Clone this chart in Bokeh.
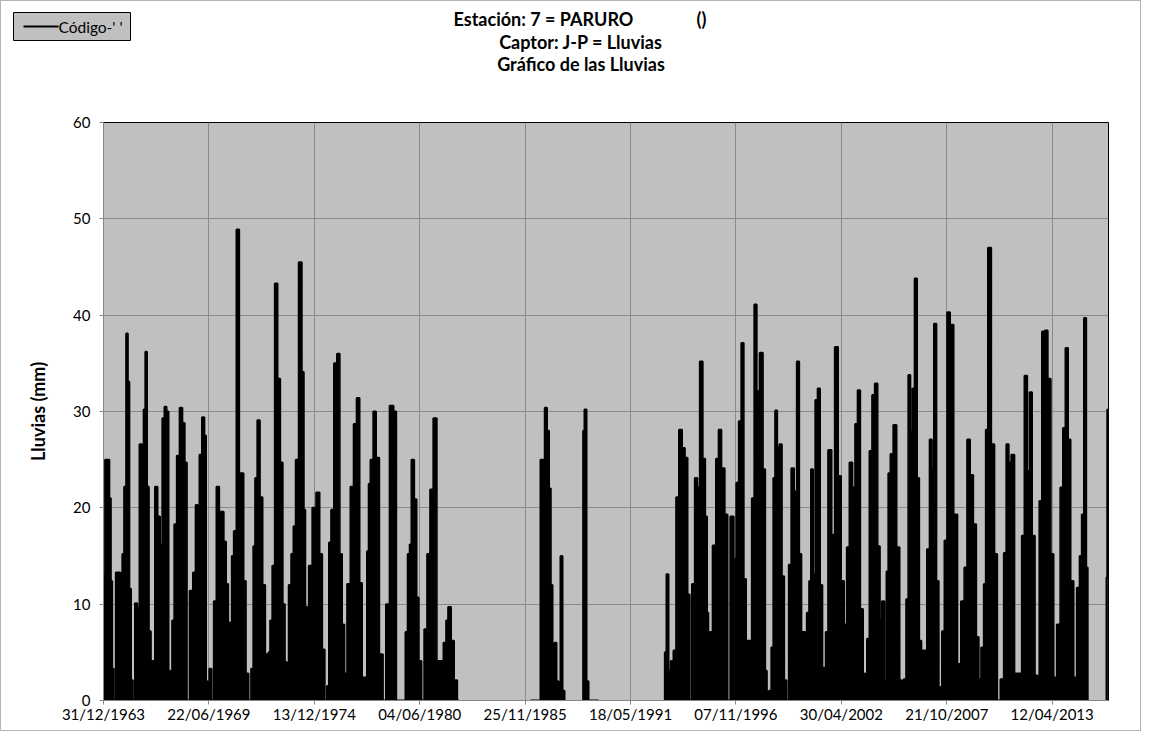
import numpy as np
import pandas as pd
from bokeh.plotting import figure
from bokeh.layouts import column
from bokeh.models import (Range1d, FixedTicker, DatetimeTickFormatter, ColumnDataSource)
from bokeh.core.properties import value
from bokeh.embed import file_html
from bokeh.resources import INLINE

NAN = float("nan")

# ---- data (time in decimal years, rainfall in mm) ----
years_1964_1982 = [
    1964.01, 1964.156, 1964.26, 1964.346, 1964.415, 1964.485, 1964.571,
    1964.71, 1964.814, 1964.935, 1965.022, 1965.125, 1965.229, 1965.299, 1965.385, 1965.472, 1965.576,
    1965.697, 1965.801, 1965.939, 1966.043, 1966.13, 1966.216, 1966.303, 1966.407, 1966.511,
    1966.614, 1966.736, 1966.874, 1966.995, 1967.117, 1967.221, 1967.325, 1967.428, 1967.515,
    1967.619, 1967.74, 1967.879, 1968.034, 1968.156, 1968.277, 1968.381,
    1968.571, 1968.727, 1968.848, 1968.935, 1969.039, 1969.195, 1969.281, 1969.368, 1969.437,
    1969.558, 1969.662,
    1969.801, 1969.939, 1970.078, 1970.182, 1970.303, 1970.424, 1970.528,
    1970.615, 1970.719, 1970.822, 1970.996, 1971.099, 1971.221, 1971.324, 1971.463, 1971.60,
    1971.74, 1971.827, 1971.931, 1972.052, 1972.191, 1972.329, 1972.467, 1972.54,
    1972.606, 1972.71, 1972.831, 1972.97, 1973.108, 1973.247, 1973.368, 1973.472,
    1973.558, 1973.688, 1973.818, 1973.922, 1974.052, 1974.234, 1974.364, 1974.442, 1974.519,
    1974.582, 1974.753, 1974.945, 1975.153, 1975.288, 1975.429, 1975.55,
    1975.673, 1975.756, 1975.896, 1976.052, 1976.208, 1976.327, 1976.452, 1976.571,
    1976.743, 1976.919, 1977.075, 1977.231, 1977.366, 1977.491,
    1977.626, 1977.75, 1977.803, 1977.938, 1978.093, 1978.218, 1978.426, 1978.6,
    1978.753, 1978.977, 1979.153, 1979.257, 1979.45,
    1979.65, 1979.725, 1979.88, 1979.932, 1980.067, 1980.208, 1980.312, 1980.431, 1980.6,
    1980.727, 1980.899, 1981.039, 1981.231, 1981.387,
    1981.558, 1981.766, 1981.834, 1981.974, 1982.13, 1982.286, 1982.457,
]
rain_1964_1982 = [
    13, 25, 25, 21, 12.4, 3.3, 0,
    13.3, 13.3, 11.2, 15.2, 22.2, 38.1, 33.1, 11.6, 2.1, 0,
    10.1, 9.6, 26.6, 21.4, 30.2, 36.2, 22.2, 7.2, 4.1,
    4.1, 22.2, 19.1, 16.2, 29.3, 30.5, 30, 3.1, 0,
    8.3, 18.3, 25.4, 30.4, 28.8, 24.7, 0,
    11.4, 13.3, 20.3, 17.6, 25.5, 29.4, 27.5, 2, 0,
    3.3, 0,
    10.3, 22.2, 19.6, 19.6, 16.5, 12.1, 6.9,
    8.1, 15, 17.6, 48.9, 23.6, 23.6, 12.4, 2.8, 0,
    3.3, 16, 23.1, 29.1, 21.1, 12, 4.8, 0,
    5, 8.3, 14, 43.3, 33.4, 24.7, 10, 4,
    3.9, 12, 15.2, 18.1, 25, 45.5, 34.1, 19.8, 6.7,
    9.7, 14, 20, 21.6, 15.2, 5.3, 0,
    1.5, 16.4, 19.8, 35, 36, 15.2, 7.9, 2.8,
    12.1, 22.2, 28.7, 31.4, 12.2, 2.4,
    2.4, 15.5, 22.5, 25, 30, 25.2, 4.8, 0,
    10, 30.6, 30, 0, 0,
    0, 7.1, 15.2, 16.2, 25, 20.9, 10.7, 4.1, 0,
    7.4, 15.2, 21.9, 29.3, 4.1,
    4.1, 6, 8.3, 9.7, 6.2, 2.1, 0,
]

years_1986_1988 = [1986.182, 1986.649, 1986.753, 1986.857, 1986.987, 1987.091, 1987.195,
                   1987.273, 1987.377, 1987.481, 1987.584, 1987.688, 1987.792, 1987.896, 1988.0]
rain_1986_1988 = [0, 0, 25, 25, 30.4, 28, 22, 12, 3, 6, 2, 0, 15, 1, 0]

years_1988_1989 = [1988.90, 1988.935, 1989.039, 1989.143, 1989.247, 1989.714]
rain_1988_1989 = [0, 28, 30.2, 2, 0, 0]

years_1993_2015 = [
    1993.125, 1993.194, 1993.298, 1993.402, 1993.541, 1993.679,
    1993.818, 1993.974, 1994.13, 1994.268, 1994.407, 1994.494,
    1994.649, 1994.788, 1994.909, 1995.047, 1995.203, 1995.307, 1995.394, 1995.44,
    1995.549, 1995.74, 1995.896, 1996.017, 1996.173, 1996.363, 1996.468,
    1996.658, 1996.814, 1996.935, 1997.073, 1997.195, 1997.316, 1997.437,
    1997.61, 1997.749, 1997.87, 1997.991, 1998.182, 1998.32, 1998.424, 1998.494,
    1998.632, 1998.753, 1998.84, 1998.944, 1999.047, 1999.187, 1999.29, 1999.428, 1999.532,
    1999.671, 1999.792, 1999.948, 2000.086, 2000.19, 2000.312, 2000.467,
    2000.606, 2000.71, 2000.796, 2000.917, 2001.039, 2001.16, 2001.281, 2001.402, 2001.48,
    2001.558, 2001.731, 2001.904, 2002.078, 2002.234, 2002.389, 2002.545,
    2002.684, 2002.822, 2002.978, 2003.117, 2003.238, 2003.376, 2003.532, 2003.6,
    2003.723, 2003.861, 2003.999, 2004.138, 2004.277, 2004.381, 2004.502, 2004.623,
    2004.727, 2004.814, 2004.952, 2005.108, 2005.281, 2005.42, 2005.49,
    2005.628, 2005.766, 2005.853, 2005.974, 2006.078, 2006.199, 2006.32, 2006.424, 2006.545,
    2006.701, 2006.857, 2006.978, 2007.082, 2007.203, 2007.325, 2007.446, 2007.5,
    2007.619, 2007.757, 2007.896, 2008.052, 2008.26, 2008.45,
    2008.641, 2008.796, 2008.935, 2009.091, 2009.264, 2009.402, 2009.524,
    2009.662, 2009.801, 2009.87, 2010.026, 2010.199, 2010.355, 2010.493,
    2010.701, 2010.84, 2010.961, 2011.082, 2011.238, 2011.394,
    2011.636, 2011.775, 2011.913, 2012.052, 2012.173, 2012.294, 2012.467, 2012.56,
    2012.675, 2012.831, 2012.97, 2013.125, 2013.281, 2013.42,
    2013.627, 2013.783, 2013.905, 2014.043, 2014.164, 2014.303, 2014.476,
    2014.649, 2014.77, 2014.874, 2014.996, 2015.1, 2015.151,
]
rain_1993_2015 = [
    0, 5, 13.1, 3.1, 4.1, 5.2,
    21.1, 28.1, 26.2, 25.2, 11, 0,
    12.1, 23.1, 22.1, 35.2, 25.1, 19.1, 9.1, 0,
    7.1, 16.1, 25.1, 28.1, 24.1, 19.3, 0,
    19.1, 14.7, 22.6, 29, 37.1, 12.6, 6.2,
    6.2, 21, 41.1, 32.1, 36.1, 24, 3.1, 0,
    1, 5.5, 23.1, 30.1, 26.2, 26.6, 12.9, 2.1, 0,
    14.1, 24.1, 21.7, 35.2, 15.2, 7.1, 7.1,
    9.1, 12.4, 24, 13.1, 31.2, 32.4, 12, 3.4, 0,
    7.1, 26, 17.2, 36.7, 23.3, 12.4, 7.9,
    15.9, 24.7, 22.1, 28.7, 32.2, 9.5, 2.8, 0,
    6.4, 25.9, 31.7, 32.9, 16, 8.4, 10.3, 2.1,
    13.4, 23.6, 25.6, 28.6, 15.9, 2.1, 0,
    2.2, 10.5, 33.8, 27.9, 32.4, 43.8, 23.1, 6.2, 5.2,
    5.2, 15.7, 27.1, 24.1, 39.1, 12.4, 1.4, 0,
    7.2, 16.6, 40.3, 39, 19.3, 3.8,
    10.3, 13.8, 27.1, 23.4, 18.3, 6.6, 2.2,
    5.5, 12.1, 28.1, 47, 26.6, 15.2, 0,
    2.2, 15.3, 26.6, 24.7, 25.5, 2.8,
    2.8, 17.1, 33.7, 23.8, 32, 17.1, 2.6, 0,
    20.7, 38.3, 38.4, 33.4, 15.2, 2.4,
    7.9, 22.1, 28.3, 36.6, 27.1, 12.4, 2.4,
    11.7, 15, 19.3, 39.7, 13.8, 0,
]

years_2016 = [2016.09, 2016.12, 2016.165]
rain_2016 = [0, 12.8, 30.2]

# periods without records (line interrupted)
gap_years = [1984.3, 1988.45, 1991.4, 2015.6]

x_ticks_labels = ["31/12/1963", "22/06/1969", "13/12/1974", "04/06/1980", "25/11/1985",
                  "18/05/1991", "07/11/1996", "30/04/2002", "21/10/2007", "12/04/2013"]
y_ticks = [0, 10, 20, 30, 40, 50, 60]
title_station = "Estación: 7 = PARURO"
title_station_code = "()"
title_lines = ["Captor: J-P = Lluvias", "Gráfico de las Lluvias"]
series_name = "Código-' '"

# ---- build the series ----
periods = [(years_1964_1982, rain_1964_1982), (years_1986_1988, rain_1986_1988),
           (years_1988_1989, rain_1988_1989), (years_1993_2015, rain_1993_2015),
           (years_2016, rain_2016)]
t_all, v_all = [], []
for i, (ty, rv) in enumerate(periods):
    if i > 0:
        t_all.append(gap_years[i - 1]); v_all.append(NAN)
    t_all += ty; v_all += rv

BASE = pd.Timestamp("1963-12-31")


def to_dt(t):
    return BASE + pd.to_timedelta((np.asarray(t, dtype=float) - 1964.0) * 365.25, unit="D")


src = ColumnDataSource(dict(x=to_dt(t_all), y=np.array(v_all, dtype=float)))

tick_dates = [pd.to_datetime(s, format="%d/%m/%Y") for s in x_ticks_labels]
tick_ms = [int(d.value // 10**6) for d in tick_dates]

FONT = "Lato"
W = 1141
HEAD_H = 110
MAIN_H = 621
TSIZE = "18px"

# ---- header: titles + legend (pixel coordinates, y downwards) ----
head = figure(width=W, height=HEAD_H, output_backend="svg", toolbar_location=None,
              x_range=Range1d(0, W), y_range=Range1d(HEAD_H, 0),
              x_axis_location=None, y_axis_location=None,
              min_border=0, min_border_left=0, min_border_right=0,
              min_border_top=0, min_border_bottom=0)
head.frame_align = False
head.grid.visible = False
head.outline_line_color = None
head.background_fill_color = None
head.border_fill_color = None
tkw = dict(text_baseline="middle", text_font=value(FONT), text_font_size=TSIZE,
           text_font_style="bold", text_color="black")
head.text(x=[453], y=[18], text=[title_station], text_align="left", **tkw)
head.text(x=[706], y=[18], text=[title_station_code], text_align="right", **tkw)
head.text(x=[580.5, 580.5], y=[41, 63], text=title_lines, text_align="center", **tkw)
head.quad(left=[13], right=[130], top=[12], bottom=[40], fill_color="#c0c0c0",
          line_color="black", line_width=1)
head.segment(x0=[23], y0=[26], x1=[58], y1=[26], line_color="black", line_width=2)
head.text(x=[58], y=[26], text=[series_name], text_align="left", text_baseline="middle",
          text_font=value(FONT), text_font_size="15.5px", text_color="black")

# ---- main chart ----
p = figure(width=W, height=MAIN_H, output_backend="svg", toolbar_location=None,
           x_axis_type="datetime",
           x_range=Range1d(BASE, to_dt([2016.207])[0]),
           y_range=Range1d(0, 60),
           min_border_left=103, min_border_right=33, min_border_top=12, min_border_bottom=31)
p.frame_align = False

p.background_fill_color = "#c0c0c0"
p.border_fill_color = None
p.outline_line_color = "black"
p.outline_line_width = 1

p.varea_step(x="x", y1=0, y2="y", step_mode="center", source=src, fill_color="black")
p.step(x="x", y="y", mode="center", source=src, line_color="black", line_width=2)

p.xaxis.ticker = FixedTicker(ticks=tick_ms)
fmt = "%d/%m/%Y"
p.xaxis.formatter = DatetimeTickFormatter(milliseconds=fmt, seconds=fmt, minsec=fmt, minutes=fmt,
                                          hourmin=fmt, hours=fmt, days=fmt, months=fmt, years=fmt)
p.yaxis.ticker = FixedTicker(ticks=y_ticks)
for ax in (p.xaxis[0], p.yaxis[0]):
    ax.axis_line_color = "#868686"
    ax.major_tick_line_color = "#868686"
    ax.major_tick_out = 4
    ax.major_tick_in = 0
    ax.minor_tick_line_color = None
    ax.major_label_text_font = FONT
    ax.major_label_text_font_size = "15px"
    ax.major_label_text_color = "black"
p.xaxis.major_label_standoff = 0
p.yaxis.major_label_standoff = 9
p.yaxis.axis_label = "Lluvias (mm)"
p.yaxis.axis_label_text_font = FONT
p.yaxis.axis_label_text_font_size = "18px"
p.yaxis.axis_label_text_font_style = "bold"
p.yaxis.axis_label_text_color = "black"
p.yaxis.axis_label_standoff = 21

p.xgrid.grid_line_color = "#8a8a8a"
p.ygrid.grid_line_color = "#8a8a8a"

layout = column(head, p, spacing=0,
                styles={"background-color": "white",
                        "box-shadow": "inset 0 0 0 1px #b4b4b4"})
open("out.html", "w").write(file_html(layout, INLINE))
